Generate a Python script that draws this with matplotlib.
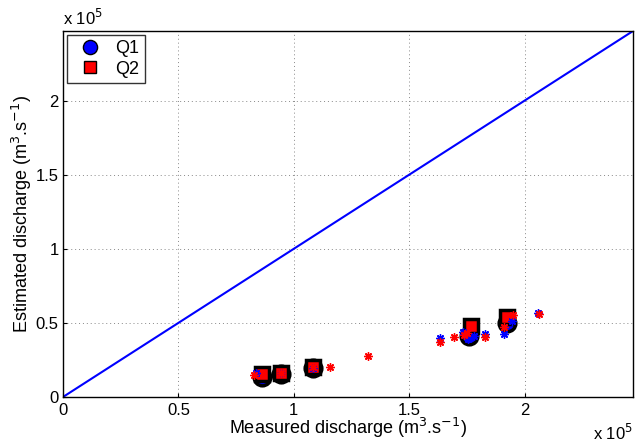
import matplotlib.pyplot as plt
from matplotlib.ticker import FuncFormatter, MultipleLocator

plt.rcParams['font.family'] = ['Liberation Sans', 'DejaVu Sans']

# mean estimates (m3/s)
q1_meas = [86300, 94500, 108400, 176000, 192500]
q1_est = [13600, 15600, 19700, 41000, 50000]
q2_meas = [86300, 94500, 108400, 177000, 192500]
q2_est = [15600, 16300, 20000, 48000, 54000]

# individual estimates
q1_pts_meas = [83700, 94500, 108400, 163400, 173400, 175500, 178000, 183000, 191000, 194600, 206000]
q1_pts_est = [16300, 16000, 19800, 40000, 44000, 39400, 41400, 42800, 42800, 51000, 57000]
q2_pts_meas = [82800, 94500, 108400, 115700, 132200, 163400, 169500, 173800, 175000, 183000, 191000, 195000, 206300]
q2_pts_est = [15000, 16000, 20000, 20400, 27800, 37300, 40700, 42000, 43500, 40700, 47500, 55000, 56300]

lim = 247000
asterisk = (8, 2, 0)

fig = plt.figure(figsize=(6.35, 4.46), dpi=100)
ax = fig.add_axes([0.0992, 0.1099, 0.8977, 0.8206])

ax.plot([0, lim], [0, lim], color='#0000ff', lw=1.5, zorder=2)
ax.plot(q1_meas, q1_est, 'o', ms=12, mfc='#0000ff', mec='k', mew=2.5, label='Q1', zorder=3)
ax.plot(q2_meas, q2_est, 's', ms=9.5, mfc='#ff0000', mec='k', mew=2.5, label='Q2', zorder=4)
ax.plot(q1_pts_meas, q1_pts_est, marker=asterisk, ms=6, mew=1.0, color='#0000ff', ls='none', zorder=5)
ax.plot(q2_pts_meas, q2_pts_est, marker=asterisk, ms=6, mew=1.0, color='#ff0000', ls='none', zorder=5)

ax.set_xlim(0, lim)
ax.set_ylim(0, lim)
fmt = FuncFormatter(lambda v, p: '%g' % (v / 1e5))
for a in (ax.xaxis, ax.yaxis):
    a.set_major_locator(MultipleLocator(50000))
    a.set_major_formatter(fmt)
ax.tick_params(direction='in', length=3, labelsize=12, top=False, right=False)
ax.tick_params(axis='x', pad=4)
ax.tick_params(axis='y', pad=3)
ax.grid(True, color='#888888', ls=(0, (1, 3)), lw=0.7)
for s in ax.spines.values():
    s.set_linewidth(1.0)

ax.set_xlabel('Measured discharge (m$^3$.s$^{-1}$)', fontsize=13, labelpad=-1)
ax.set_ylabel('Estimated discharge (m$^3$.s$^{-1}$)', fontsize=13, labelpad=1)
ax.text(0, 1.008, r'x 10$^5$', transform=ax.transAxes, fontsize=12, ha='left', va='bottom')
ax.text(1.0, -0.07, r'x 10$^5$', transform=ax.transAxes, fontsize=12, ha='right', va='top')

leg = ax.legend(loc='upper left', fontsize=13, frameon=True, fancybox=False,
                borderaxespad=0.2, handletextpad=0.4, markerscale=0.85,
                borderpad=0.3, labelspacing=0.2, handlelength=2.0)
leg.get_frame().set_edgecolor('k')
leg.get_frame().set_linewidth(1.0)
for h in leg.legend_handles:
    h.set_markeredgewidth(1.0)

fig.savefig('out.png', dpi=100)
